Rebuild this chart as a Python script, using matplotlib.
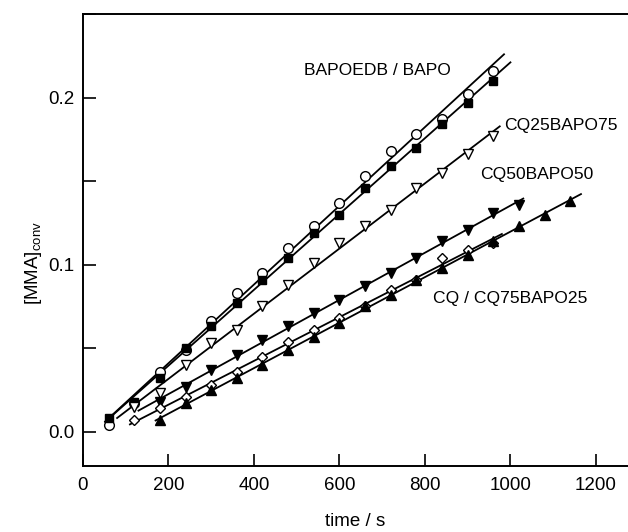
import numpy as np
import matplotlib
matplotlib.use("Agg")
import matplotlib.pyplot as plt
from matplotlib.ticker import MultipleLocator

# ---- data ----
t_bapoedb = [60, 120, 180, 240, 300, 360, 420, 480, 540, 600, 660, 720, 780, 840, 900, 960]
y_bapoedb = [0.004, 0.017, 0.036, 0.049, 0.066, 0.083, 0.095, 0.110, 0.123, 0.137, 0.153, 0.168, 0.178, 0.187, 0.202, 0.216]

t_bapo = [60, 120, 180, 240, 300, 360, 420, 480, 540, 600, 660, 720, 780, 840, 900, 960]
y_bapo = [0.008, 0.018, 0.032, 0.050, 0.063, 0.077, 0.091, 0.104, 0.119, 0.130, 0.146, 0.159, 0.170, 0.184, 0.197, 0.210]

t_cq25 = [120, 180, 240, 300, 360, 420, 480, 540, 600, 660, 720, 780, 840, 900, 960]
y_cq25 = [0.015, 0.023, 0.040, 0.053, 0.061, 0.075, 0.088, 0.101, 0.113, 0.123, 0.133, 0.146, 0.155, 0.166, 0.177]

t_cq50 = [180, 240, 300, 360, 420, 480, 540, 600, 660, 720, 780, 840, 900, 960, 1020]
y_cq50 = [0.018, 0.027, 0.037, 0.046, 0.055, 0.063, 0.071, 0.079, 0.087, 0.095, 0.104, 0.114, 0.121, 0.131, 0.136]

t_cq = [120, 180, 240, 300, 360, 420, 480, 540, 600, 660, 720, 780, 840, 900, 960]
y_cq = [0.007, 0.014, 0.021, 0.028, 0.036, 0.045, 0.054, 0.061, 0.068, 0.075, 0.085, 0.091, 0.104, 0.109, 0.113]

t_cq75 = [180, 240, 300, 360, 420, 480, 540, 600, 660, 720, 780, 840, 900, 960, 1020, 1080, 1140]
y_cq75 = [0.007, 0.017, 0.025, 0.032, 0.040, 0.049, 0.057, 0.065, 0.075, 0.082, 0.091, 0.098, 0.106, 0.114, 0.123, 0.130, 0.138]

labels = ["BAPOEDB / BAPO", "CQ25BAPO75", "CQ50BAPO50", "CQ / CQ75BAPO25"]
x_ticks = [0, 200, 400, 600, 800, 1000, 1200]
y_ticks = [0.0, 0.1, 0.2]

plt.rcParams['font.family'] = ['Liberation Sans', 'DejaVu Sans']

fig = plt.figure(figsize=(6.28, 5.32), dpi=100)
ax = fig.add_axes([0.132, 0.124, 0.868, 0.8497])

series = [
    (t_bapoedb, y_bapoedb, dict(marker='o', mfc='white', mec='black'), (-8, 25)),
    (t_bapo, y_bapo, dict(marker='s', mfc='black', mec='black', ms=6), (-8, 40)),
    (t_cq25, y_cq25, dict(marker='v', mfc='white', mec='black'), (-40, 15)),
    (t_cq50, y_cq50, dict(marker='v', mfc='black', mec='black'), (-50, 10)),
    (t_cq, y_cq, dict(marker='D', mfc='white', mec='black', ms=5.5), (-10, 20)),
    (t_cq75, y_cq75, dict(marker='^', mfc='black', mec='black'), (-10, 25)),
]

for t, y, mk, ext in series:
    t = np.asarray(t, float)
    y = np.asarray(y, float)
    style = dict(ms=7, mew=1.0, ls='none')
    style.update(mk)
    ax.plot(t, y, zorder=3, **style)
    p = np.polyfit(t, y, 1)
    xx = np.array([t.min() + ext[0], t.max() + ext[1]])
    ax.plot(xx, np.polyval(p, xx), color='black', lw=1.3, zorder=2)

ax.set_xlim(0, 1275)
ax.set_ylim(-0.0205, 0.25)
ax.set_xticks(x_ticks)
ax.set_yticks(y_ticks)
ax.set_yticklabels([f"{v:.1f}" for v in y_ticks])
ax.yaxis.set_minor_locator(MultipleLocator(0.05))

ax.tick_params(axis='both', which='both', direction='in', length=9, width=1.2,
               labelsize=13.5, top=False, right=False)
ax.tick_params(axis='x', pad=8)
ax.tick_params(axis='y', pad=6)
for s in ax.spines.values():
    s.set_linewidth(1.4)
ax.spines['right'].set_visible(False)

ax.set_xlabel("time / s", fontsize=13.5)
ax.set_ylabel(r"[MMA]$_{\mathregular{conv}}$", fontsize=13.5)
ax.yaxis.set_label_coords(-0.072, 0.45)
ax.xaxis.set_label_coords(0.5, -0.105)

txt = dict(fontsize=12.6, va='center', ha='left')
ax.text(516, 0.216, labels[0], **txt)
ax.text(985, 0.183, labels[1], **txt)
ax.text(929, 0.154, labels[2], **txt)
ax.text(820, 0.080, labels[3], **txt)

fig.savefig("out.png", dpi=100)
